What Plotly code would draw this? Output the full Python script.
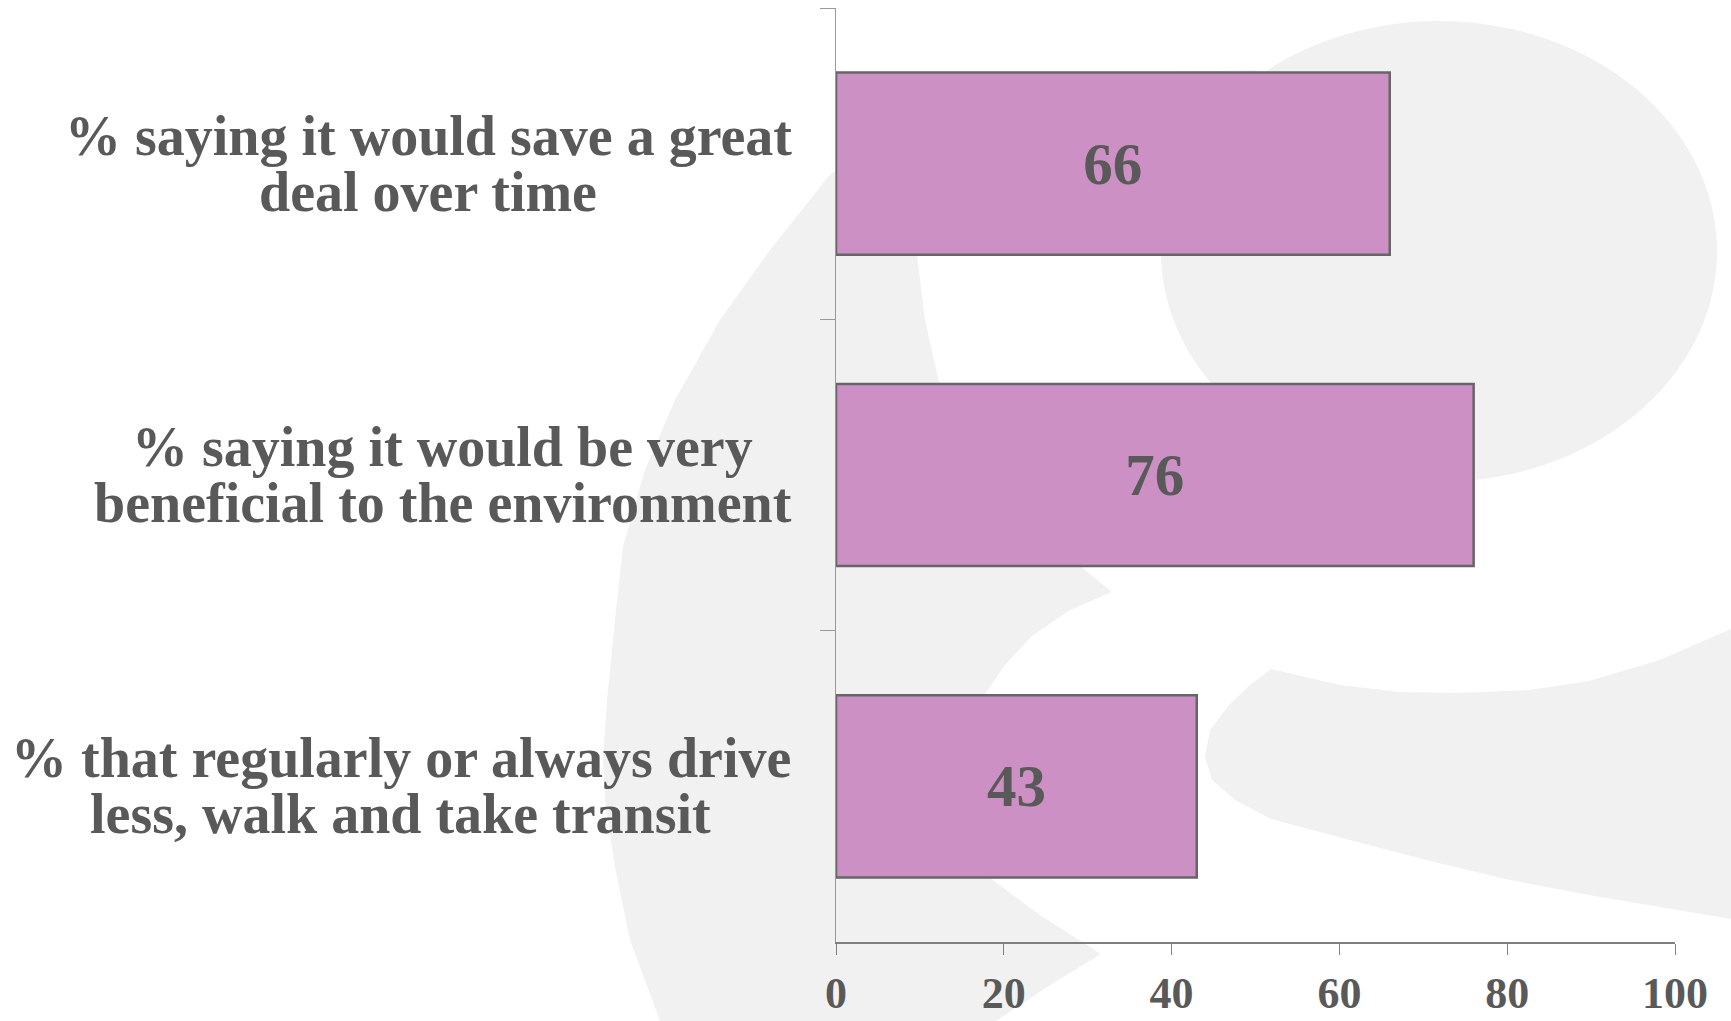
import plotly.graph_objects as go

# ---------------- data ----------------
label_lines = [
    ["% saying it would save a great", "deal over time"],
    ["% saying it would be very", "beneficial to the environment"],
    ["% that regularly or always drive", "less, walk and take transit"],
]
categories = [" ".join(l) for l in label_lines]
values = [66, 76, 43]
x_ticks = [0, 20, 40, 60, 80, 100]

TEXT = "#595959"
FONT = "Liberation Serif"
W, H = 1731, 1021
L, R, T, B = 836, 56, 8, 79
PW, PH = W - L - R, H - T - B
LABEL_SIZE = 56
LABEL_RIGHT_PX = 792  # right edge of the widest line of each label block

# Liberation Serif Bold advance widths (per 1000 em), used to centre the lines of a block
ADV = {" ": 250, "%": 1000, ",": 250, "a": 500, "b": 556, "c": 444, "d": 556, "e": 444,
       "f": 333, "g": 500, "h": 556, "i": 278, "k": 556, "l": 278, "m": 833, "n": 556,
       "o": 500, "r": 444, "s": 389, "t": 333, "u": 556, "v": 500, "w": 722, "y": 500}


def text_width(s, size):
    return sum(ADV.get(c, 500) for c in s) / 1000 * size


def to_paper(px, py):
    return (px - L) / PW, (H - B - py) / PH


def path_from(points):
    pts = [to_paper(x, y) for x, y in points]
    return "M " + " L ".join(f"{x:.4f},{y:.4f}" for x, y in pts) + " Z"


# background watermark outlines (decorative, in page pixels)
band = [(640, 1060), (660, 1021), (630, 940), (615, 867), (605, 800), (603, 760), (607, 700),
        (615, 620), (623, 547), (645, 470), (675, 400), (720, 320), (770, 250), (828, 177),
        (870, 140), (950, 105), (1050, 82), (1150, 72), (1257, 70), (1200, 150), (1000, 175),
        (930, 210), (917, 255), (925, 320), (939, 382), (970, 450), (1020, 520), (1085, 570),
        (1112, 592), (1070, 610), (1032, 636), (1005, 665), (985, 694), (975, 760), (978, 820),
        (990, 878), (1040, 915), (1101, 954), (1050, 985), (996, 1021), (960, 1060)]
tail = [(1271, 669), (1340, 685), (1400, 692), (1456, 693), (1530, 690), (1589, 681), (1660, 660),
        (1731, 629), (1800, 590), (1800, 945), (1731, 919), (1660, 907), (1589, 895), (1510, 880),
        (1430, 861), (1350, 840), (1271, 819), (1235, 800), (1212, 780), (1205, 757), (1210, 730),
        (1229, 705), (1250, 685)]
GREY = "#f1f1f1"
ex0, ey0 = to_paper(1161, 21)
ex1, ey1 = to_paper(1717, 482)
shapes = [
    dict(type="path", xref="paper", yref="paper", path=path_from(band), fillcolor=GREY,
         line=dict(width=0), layer="below"),
    dict(type="circle", xref="paper", yref="paper", x0=ex0, x1=ex1, y0=ey1, y1=ey0,
         fillcolor=GREY, line=dict(width=0), layer="below"),
    dict(type="path", xref="paper", yref="paper", path=path_from(tail), fillcolor=GREY,
         line=dict(width=0), layer="below"),
]

fig = go.Figure(
    go.Bar(
        x=values,
        y=categories,
        orientation="h",
        marker=dict(color="#cd90c4", line=dict(color="#666666", width=2.5)),
        texttemplate="<b>%{x}</b>",
        textposition="inside",
        insidetextanchor="middle",
        textangle=0,
        textfont=dict(family=FONT, size=59, color=TEXT),
        hoverinfo="skip",
    )
)

annotations = []
for cat, lines in zip(categories, label_lines):
    n = len(lines)
    maxw = max(text_width(s, LABEL_SIZE) for s in lines)
    cx = to_paper(LABEL_RIGHT_PX - maxw / 2, 0)[0]
    for j, line in enumerate(lines):
        annotations.append(dict(
            x=cx, xref="paper", y=cat, yref="y",
            xanchor="center", yanchor="middle",
            yshift=28 * (n - 1) - 56 * j,
            text=f"<b>{line}</b>", showarrow=False,
            font=dict(family=FONT, size=LABEL_SIZE, color=TEXT),
        ))

fig.update_layout(
    template="none",
    width=W, height=H,
    margin=dict(l=L, r=R, t=T, b=B, pad=0),
    paper_bgcolor="white",
    plot_bgcolor="rgba(0,0,0,0)",
    showlegend=False,
    bargap=0.415,
    shapes=shapes,
    annotations=annotations,
    xaxis=dict(
        range=[0, 100], tickvals=x_ticks, ticks="outside", ticklen=11,
        tickcolor="#7f7f7f", tickwidth=1.3, showline=True, linecolor="#7f7f7f",
        linewidth=1.5, showgrid=False, zeroline=False, automargin=False,
        tickfont=dict(family=FONT, size=44, color=TEXT, weight="bold"),
        ticklabelstandoff=0,
    ),
    yaxis=dict(
        type="category", categoryorder="array", categoryarray=categories,
        range=[len(categories) - 0.5, -0.5], showticklabels=False,
        ticks="outside", tickson="boundaries", ticklen=15, tickcolor="#999999",
        tickwidth=1.3, showline=True, linecolor="#999999", linewidth=1.3,
        showgrid=False, zeroline=False, automargin=False,
    ),
)

fig.write_html("out.html", config={"displayModeBar": False})
